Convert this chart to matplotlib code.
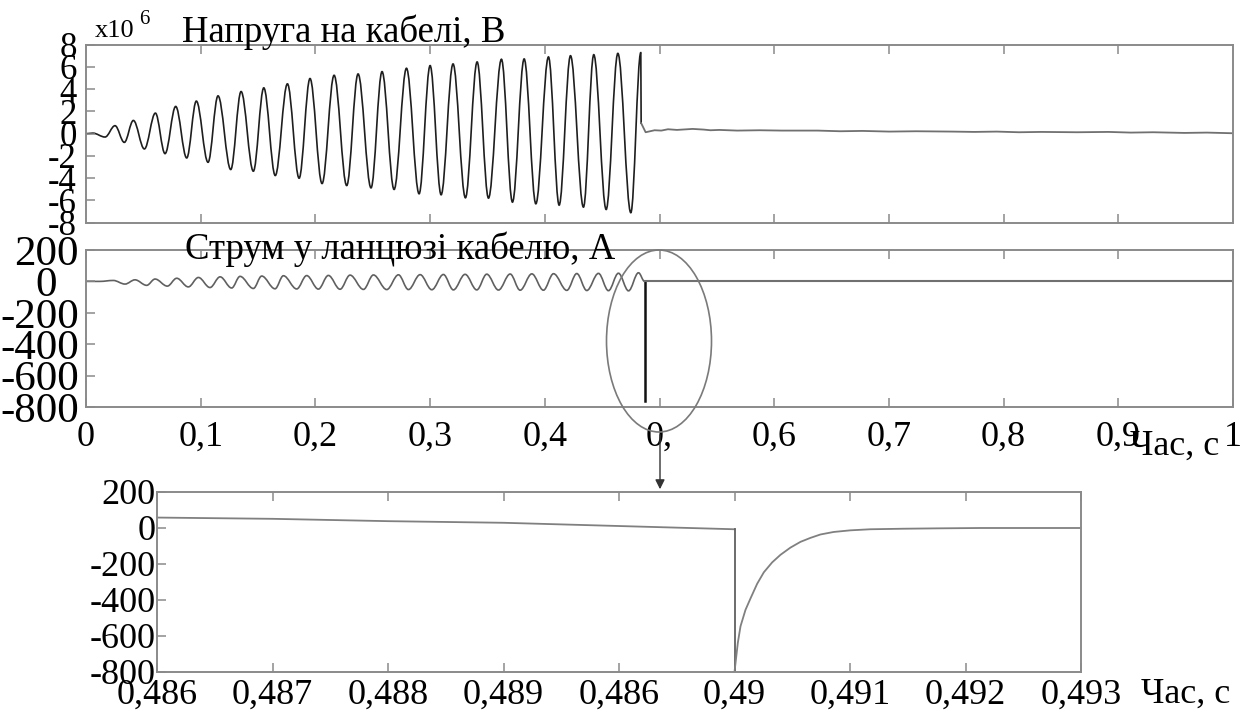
import numpy as np
import matplotlib
matplotlib.use('Agg')
import matplotlib.pyplot as plt
from matplotlib.path import Path
from matplotlib.patches import PathPatch, Ellipse, FancyArrowPatch

plt.rcParams['font.family'] = ['Liberation Serif', 'DejaVu Serif']

######## data

# voltage, x10^6 V : extremes of the oscillation up to the break
u_ext_t = [0.0, 0.006, 0.0166, 0.0253, 0.0334, 0.0413, 0.0509, 0.0605, 0.0689, 0.0782,
           0.0878, 0.0962, 0.1064, 0.1151, 0.1262, 0.1352, 0.1459, 0.155, 0.165, 0.1756,
           0.1858, 0.1953, 0.2058, 0.2163, 0.2273, 0.2372, 0.2485, 0.2581, 0.2686, 0.2794,
           0.2904, 0.3, 0.3096, 0.32, 0.3308, 0.341, 0.3509, 0.3622, 0.3718, 0.382,
           0.3922, 0.4032, 0.4125, 0.4224, 0.4337, 0.4427, 0.4535, 0.4637, 0.475, 0.4837]
u_ext_v = [0.0, 0.05, -0.3, 0.72, -0.78, 1.19, -1.37, 1.85, -1.79, 2.45,
           -2.18, 2.93, -2.57, 3.40, -3.22, 3.79, -3.37, 4.12, -3.76, 4.48,
           -4.0, 4.96, -4.48, 5.25, -4.66, 5.37, -4.87, 5.58, -5.01, 5.88,
           -5.40, 6.12, -5.49, 6.27, -5.76, 6.45, -5.79, 6.69, -6.15, 6.72,
           -6.30, 6.90, -6.42, 7.01, -6.60, 7.10, -6.81, 7.22, -7.10, 7.28]
# voltage after the break
u_tail_t = [0.4840, 0.4879, 0.4957, 0.5016, 0.5074, 0.5152, 0.5289, 0.5386, 0.5444, 0.5522,
            0.5678, 0.5873, 0.6068, 0.638, 0.6575, 0.677, 0.7004, 0.7238, 0.755, 0.7745,
            0.794, 0.8134, 0.8329, 0.8641, 0.8914, 0.9109, 0.9304, 0.9577, 0.9772, 1.0]
u_tail_v = [0.95, 0.13, 0.31, 0.28, 0.40, 0.34, 0.43, 0.37, 0.31, 0.34,
            0.28, 0.31, 0.28, 0.28, 0.22, 0.25, 0.19, 0.22, 0.19, 0.16,
            0.19, 0.13, 0.16, 0.13, 0.16, 0.10, 0.13, 0.07, 0.10, 0.04]

# current, A : extremes up to the break
i_ext_t = [0.0, 0.012, 0.0238, 0.034, 0.0427, 0.0529, 0.0602, 0.0709, 0.0791, 0.0892,
           0.098, 0.1081, 0.1169, 0.127, 0.1343, 0.1459, 0.1532, 0.1648, 0.1721, 0.1837,
           0.1924, 0.2026, 0.2113, 0.2215, 0.2302, 0.2419, 0.2506, 0.2622, 0.2724, 0.2811,
           0.2913, 0.3015, 0.3116, 0.3203, 0.3305, 0.3407, 0.3494, 0.3596, 0.3698, 0.3785,
           0.3887, 0.3988, 0.4076, 0.4192, 0.4279, 0.4366, 0.4468, 0.4555, 0.4642, 0.473,
           0.4817, 0.487]
i_ext_v = [0, 0, 6, -17, 10, -25, 15, -30, 20, -35,
           25, -39, 29, -42, 32, -45, 34, -47, 36, -48,
           37, -49, 38, -50, 40, -51, 41, -52, 42, -52,
           43, -53, 44, -54, 45, -54, 46, -55, 47, -56,
           48, -56, 49, -57, 50, -58, 51, -59, 52, -60,
           55, 0]
i_drop_v = -760
i_tail_t = [0.487, 1.0]
i_tail_v = [0, 0]

# zoom of the current near the break (ticks are 1 ms apart)
z_ticks = [0.486, 0.487, 0.488, 0.489, 0.490, 0.491, 0.492, 0.493, 0.494]
z_labels = ['0,486', '0,487', '0,488', '0,489', '0,486', '0,49', '0,491', '0,492', '0,493']
z_pre_t = [0.486, 0.487, 0.488, 0.489, 0.490, 0.491]
z_pre_v = [58, 51, 38, 29, 11, -7]
z_drop_v = -800
z_rec_t = [0.491, 0.491029, 0.491052, 0.491095, 0.491138, 0.491196, 0.491254, 0.491326,
           0.491398, 0.491484, 0.491571, 0.491657, 0.491744, 0.491859, 0.492003, 0.492176,
           0.492464, 0.492752, 0.493127, 0.494]
z_rec_v = [-800, -637, -546, -455, -392, -310, -246, -191,
           -149, -109, -77, -55, -36, -22, -13, -7,
           -4, -2, 0, 0]

mid_ticks = np.arange(0, 1.01, 0.1)
mid_labels = ['0', '0,1', '0,2', '0,3', '0,4', '0,', '0,6', '0,7', '0,8', '0,9', '1']
u_ticks = [8, 6, 4, 2, 0, -2, -4, -6, -8]
i_ticks = [200, 0, -200, -400, -600, -800]


def smooth(ts, vs, k=0.36):
    # cubic bezier between neighbouring extremes, flat at each extreme
    verts = [(ts[0], vs[0])]
    codes = [Path.MOVETO]
    for j in range(1, len(ts)):
        dt = ts[j] - ts[j-1]
        verts += [(ts[j-1] + k*dt, vs[j-1]), (ts[j] - k*dt, vs[j]), (ts[j], vs[j])]
        codes += [Path.CURVE4]*3
    return Path(verts, codes)


def frame(ax):
    for s in ax.spines.values():
        s.set_color('#8a8a8a')
        s.set_linewidth(1.4)
    ax.tick_params(direction='in', top=True, bottom=True, left=True, right=False,
                   length=6.5, width=1.1, color='#8a8a8a')


W, H = 1250, 717
fig = plt.figure(figsize=(12.5, 7.17), dpi=100)

def box(l, t, r, b):
    return [l/W, 1 - b/H, (r - l)/W, (b - t)/H]

## top: voltage
ax1 = fig.add_axes(box(86, 44.7, 1233, 222.7))
frame(ax1)
ax1.add_patch(PathPatch(smooth(u_ext_t, u_ext_v), fill=False, ec='#1e1e1e', lw=1.2))
ax1.plot([u_ext_t[-1], u_tail_t[0]], [u_ext_v[-1], u_tail_v[0]], color='#1e1e1e', lw=1.2)
ax1.plot(u_tail_t, u_tail_v, color='#707070', lw=1.3)
ax1.set_xlim(0, 1)
ax1.set_ylim(-8, 8)
ax1.set_xticks(mid_ticks[1:-1])
ax1.set_xticklabels([])
ax1.set_yticks(u_ticks)
ax1.set_yticklabels([str(v) for v in u_ticks], fontsize=25)
ax1.tick_params(axis='y', pad=6.5)

## middle: current
ax2 = fig.add_axes(box(86, 250, 1233, 407))
frame(ax2)
ax2.add_patch(PathPatch(smooth(i_ext_t, i_ext_v), fill=False, ec='#606060', lw=1.2))
ax2.plot([i_ext_t[-1], i_ext_t[-1]], [i_ext_v[-1], i_drop_v], color='#111111', lw=1.8)
ax2.plot(i_tail_t, i_tail_v, color='#707070', lw=1.5)
ax2.set_xlim(0, 1)
ax2.set_ylim(-800, 200)
ax2.set_xticks(mid_ticks)
ax2.set_xticklabels(mid_labels, fontsize=26)
ax2.set_yticks(i_ticks)
# the 0 sits a little left of the others in the original
ax2.set_yticklabels(['0  ' if v == 0 else str(v) for v in i_ticks], fontsize=31)
ax2.tick_params(axis='x', pad=10)
ax2.tick_params(axis='y', pad=5)

## bottom: zoom of the current
ax3 = fig.add_axes(box(157, 492, 1081, 672))
frame(ax3)
ax3.plot(z_pre_t, z_pre_v, color='#808080', lw=1.3)
ax3.plot([z_pre_t[-1], z_rec_t[0]], [z_pre_v[-1], z_drop_v], color='#606060', lw=1.3)
ax3.plot(z_rec_t, z_rec_v, color='#808080', lw=1.3)
ax3.set_xlim(0.486, 0.494)
ax3.set_ylim(-800, 200)
ax3.set_xticks(z_ticks)
ax3.set_xticklabels(z_labels, fontsize=26)
ax3.set_yticks(i_ticks)
ax3.set_yticklabels([str(v) for v in i_ticks], fontsize=26)
ax3.tick_params(axis='x', pad=5)
ax3.tick_params(axis='y', pad=1)

## texts
fig.text(95/W, 1 - 37/H, 'x10', fontsize=19, va='baseline')
fig.text(139/W, 1 - 24/H, '6', fontsize=15, va='baseline')
fig.text(182/W, 1 - 41.7/H, 'Напруга на кабелі, В', fontsize=26.5, va='baseline')
fig.text(185/W, 1 - 259/H, 'Струм у ланцюзі кабелю, А', fontsize=26.5, va='baseline')
fig.text(1130/W, 1 - 455/H, 'Час, с', fontsize=26, va='baseline')
fig.text(1141/W, 1 - 703/H, 'Час, с', fontsize=26, va='baseline')

## ellipse round the break and the arrow to the zoom
fig.add_artist(Ellipse((659/W, 1 - 341/H), 105/W, 182/H, transform=fig.transFigure,
                       fill=False, ec='#7a7a7a', lw=1.2))
fig.add_artist(FancyArrowPatch((660/W, 1 - 432/H), (660/W, 1 - 492/H),
                               transform=fig.transFigure, arrowstyle='-|>',
                               mutation_scale=14, color='#333333', lw=1.0))

fig.savefig('out.png', dpi=100)
